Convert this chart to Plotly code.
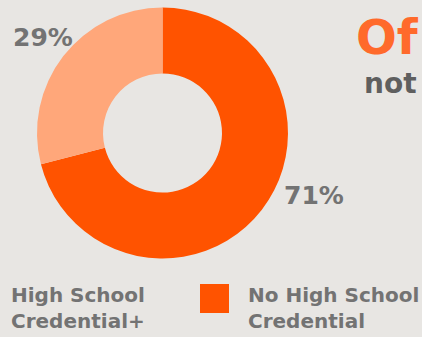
import plotly.graph_objects as go

# Share of adults by education credential
categories = ["No High School Credential", "High School Credential+"]
legend_lines = [["No High School", "Credential"], ["High School", "Credential+"]]
values = [71, 29]
colors = ["#FF5300", "#FFA77A"]

W, H = 422, 337
BG = "#E8E6E3"
GRAY = "#737373"
FONT = "DejaVu Sans"

# donut geometry in pixels
cx, cy, r = 162.5, 133.0, 125.5

fig = go.Figure(
    go.Pie(
        labels=categories,
        values=values,
        marker=dict(colors=colors, line=dict(width=0)),
        hole=0.474,
        sort=False,
        direction="clockwise",
        rotation=0,
        textinfo="none",
        hoverinfo="label+percent",
        showlegend=False,
        domain=dict(
            x=[(cx - r) / W, (cx + r) / W],
            y=[(H - cy - r) / H, (H - cy + r) / H],
        ),
    )
)

total = sum(values)
pct = [f"{round(v * 100 / total)}%" for v in values]

annotations = [
    # percentage labels
    dict(x=282 / W, y=1 - 195 / H, text=f"<b>{pct[0]}</b>", xanchor="left", yanchor="middle",
         font=dict(family=FONT, size=25, color=GRAY)),
    dict(x=11 / W, y=1 - 37 / H, text=f"<b>{pct[1]}</b>", xanchor="left", yanchor="middle",
         font=dict(family=FONT, size=25, color=GRAY)),
    # heading text at the right edge
    dict(x=421 / W, y=1 - 37 / H, text="<b>Of</b>", xanchor="right", yanchor="middle",
         font=dict(family=FONT, size=48, color="#FF6A2B")),
    dict(x=362 / W, y=1 - 84 / H, text="<b>not</b>", xanchor="left", yanchor="middle",
         font=dict(family=FONT, size=28, color="#5F5F5F")),
]

# legend text
legend_x = [246, 9]
for lx, lines in zip(legend_x, legend_lines):
    annotations.append(
        dict(x=lx / W, y=1 - 308 / H, text="<b>" + "<br>".join(lines) + "</b>",
             xanchor="left", yanchor="middle", align="left",
             font=dict(family=FONT, size=20, color=GRAY))
    )

shapes = [
    dict(type="rect", xref="paper", yref="paper",
         x0=200 / W, x1=229 / W, y0=1 - 313 / H, y1=1 - 284 / H,
         fillcolor=colors[0], line=dict(width=0)),
]

fig.update_layout(
    width=W, height=H,
    margin=dict(l=0, r=0, t=0, b=0),
    paper_bgcolor=BG, plot_bgcolor=BG,
    annotations=[dict(a, xref="paper", yref="paper", showarrow=False) for a in annotations],
    shapes=shapes,
)

fig.write_html("out.html")
